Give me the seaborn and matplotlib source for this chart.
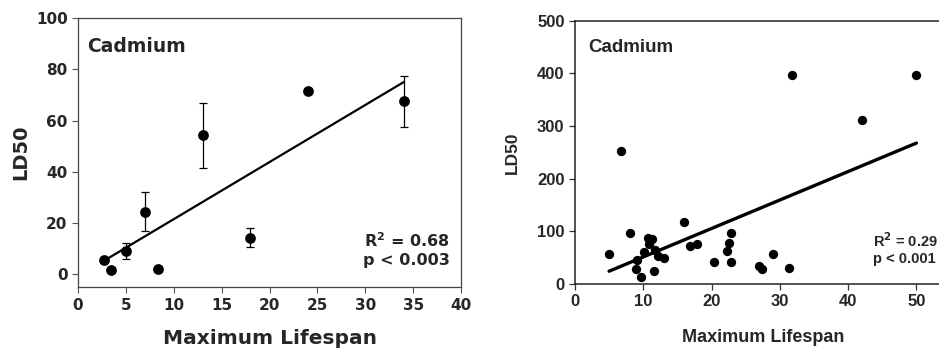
import matplotlib
matplotlib.use('Agg')
import matplotlib.pyplot as plt
import numpy as np
import pandas as pd
import seaborn as sns

# left panel: mean LD50 with error bars
left_lifespan = [2.7, 3.4, 5.0, 7.0, 8.3, 13.0, 18.0, 24.0, 34.0]
left_ld50 = [5.5, 1.5, 9.2, 24.5, 2.0, 54.5, 14.0, 71.5, 67.7]
left_err_low = [0, 0, 3.2, 7.5, 0, 13.0, 3.5, 0, 10.2]
left_err_high = [0, 0, 3.0, 7.5, 0, 12.5, 4.0, 0, 9.8]

# right panel: individual species
right_lifespan = [5.0, 6.8, 8.0, 9.1, 9.0, 9.7, 10.1, 10.75, 11.25, 10.85, 11.7, 11.6,
                  12.1, 13.0, 16.0, 16.9, 17.8, 20.4, 22.9, 22.5, 22.3, 22.9, 27.0,
                  27.4, 29.0, 31.3, 31.8, 42.0, 50.0]
right_ld50 = [57, 253, 97, 46, 28, 14, 61, 88, 85, 76, 65, 25,
              53, 49, 117, 72, 76, 42, 96, 77, 62, 41, 35,
              28, 56, 30, 397, 312, 397]

left_df = pd.DataFrame({'Lifespan': left_lifespan, 'LD50': left_ld50})
right_df = pd.DataFrame({'Lifespan': right_lifespan, 'LD50': right_ld50})

sns.set_style('ticks')
plt.rcParams['font.family'] = ['DejaVu Sans']

fig = plt.figure(figsize=(9.39, 3.48), dpi=100)
ax1 = fig.add_axes([0.0831, 0.175, 0.408, 0.773])
ax2 = fig.add_axes([0.6123, 0.184, 0.40, 0.7565])

# ---- left
ax1.errorbar(left_df['Lifespan'], left_df['LD50'], yerr=[left_err_low, left_err_high],
             fmt='none', ecolor='black', elinewidth=0.9, capsize=3, capthick=0.9, zorder=2)
sns.regplot(data=left_df, x='Lifespan', y='LD50', ax=ax1, ci=None,
            scatter_kws={'s': 60, 'color': 'black', 'alpha': 1, 'linewidths': 0, 'zorder': 3},
            line_kws={'color': 'black', 'lw': 1.6})
ax1.set_xlim(0, 40)
ax1.set_ylim(-5, 100)
ax1.set_xticks(range(0, 41, 5))
ax1.set_yticks(range(0, 101, 20))
ax1.set_xlabel('Maximum Lifespan', fontsize=14.5, fontweight='bold', labelpad=12)
ax1.set_ylabel('LD50', fontsize=14, fontweight='bold', labelpad=4)
for lbl in ax1.get_xticklabels() + ax1.get_yticklabels():
    lbl.set_fontweight('bold')
    lbl.set_fontsize(11)
ax1.tick_params(direction='out', length=4, width=0.8, color='#555555')
ax1.text(0.025, 0.93, 'Cadmium', transform=ax1.transAxes, fontsize=13.5,
         fontweight='bold', va='top')
ax1.text(0.97, 0.07, 'R$^{\\mathbf{2}}$ = 0.68\np < 0.003', transform=ax1.transAxes,
         fontsize=11.5, fontweight='bold', ha='right', va='bottom', linespacing=1.3)
for s in ax1.spines.values():
    s.set_linewidth(0.9)
    s.set_color('#444444')

# ---- right
sns.regplot(data=right_df, x='Lifespan', y='LD50', ax=ax2, ci=None,
            scatter_kws={'s': 45, 'color': 'black', 'alpha': 1, 'linewidths': 0, 'zorder': 3},
            line_kws={'color': 'black', 'lw': 2.4})
ax2.set_xlim(0, 55)
ax2.set_ylim(0, 500)
ax2.set_xticks(range(0, 51, 10))
ax2.set_yticks(range(0, 501, 100))
ax2.set_xlabel('Maximum Lifespan', fontsize=13, fontweight='bold',
               family='Liberation Sans', labelpad=14)
ax2.set_ylabel('LD50', fontsize=12.5, fontweight='bold', family='Liberation Sans', labelpad=12)
for lbl in ax2.get_xticklabels() + ax2.get_yticklabels():
    lbl.set_fontweight('bold')
    lbl.set_fontsize(12)
    lbl.set_family('Liberation Sans')
ax2.tick_params(direction='out', length=4, width=0.9, color='#333333')
ax2.text(0.035, 0.93, 'Cadmium', transform=ax2.transAxes, fontsize=13.5,
         fontweight='bold', family='Liberation Sans', va='top')
ax2.text(0.793, 0.07, 'R$^{\\mathbf{2}}$ = 0.29\np < 0.001', transform=ax2.transAxes,
         fontsize=10.5, fontweight='bold', family='Liberation Sans', ha='left', va='bottom',
         linespacing=1.15)
ax2.spines['right'].set_visible(False)
for s in ax2.spines.values():
    s.set_linewidth(1.1)
    s.set_color('#222222')

fig.savefig('out.png', dpi=100)
